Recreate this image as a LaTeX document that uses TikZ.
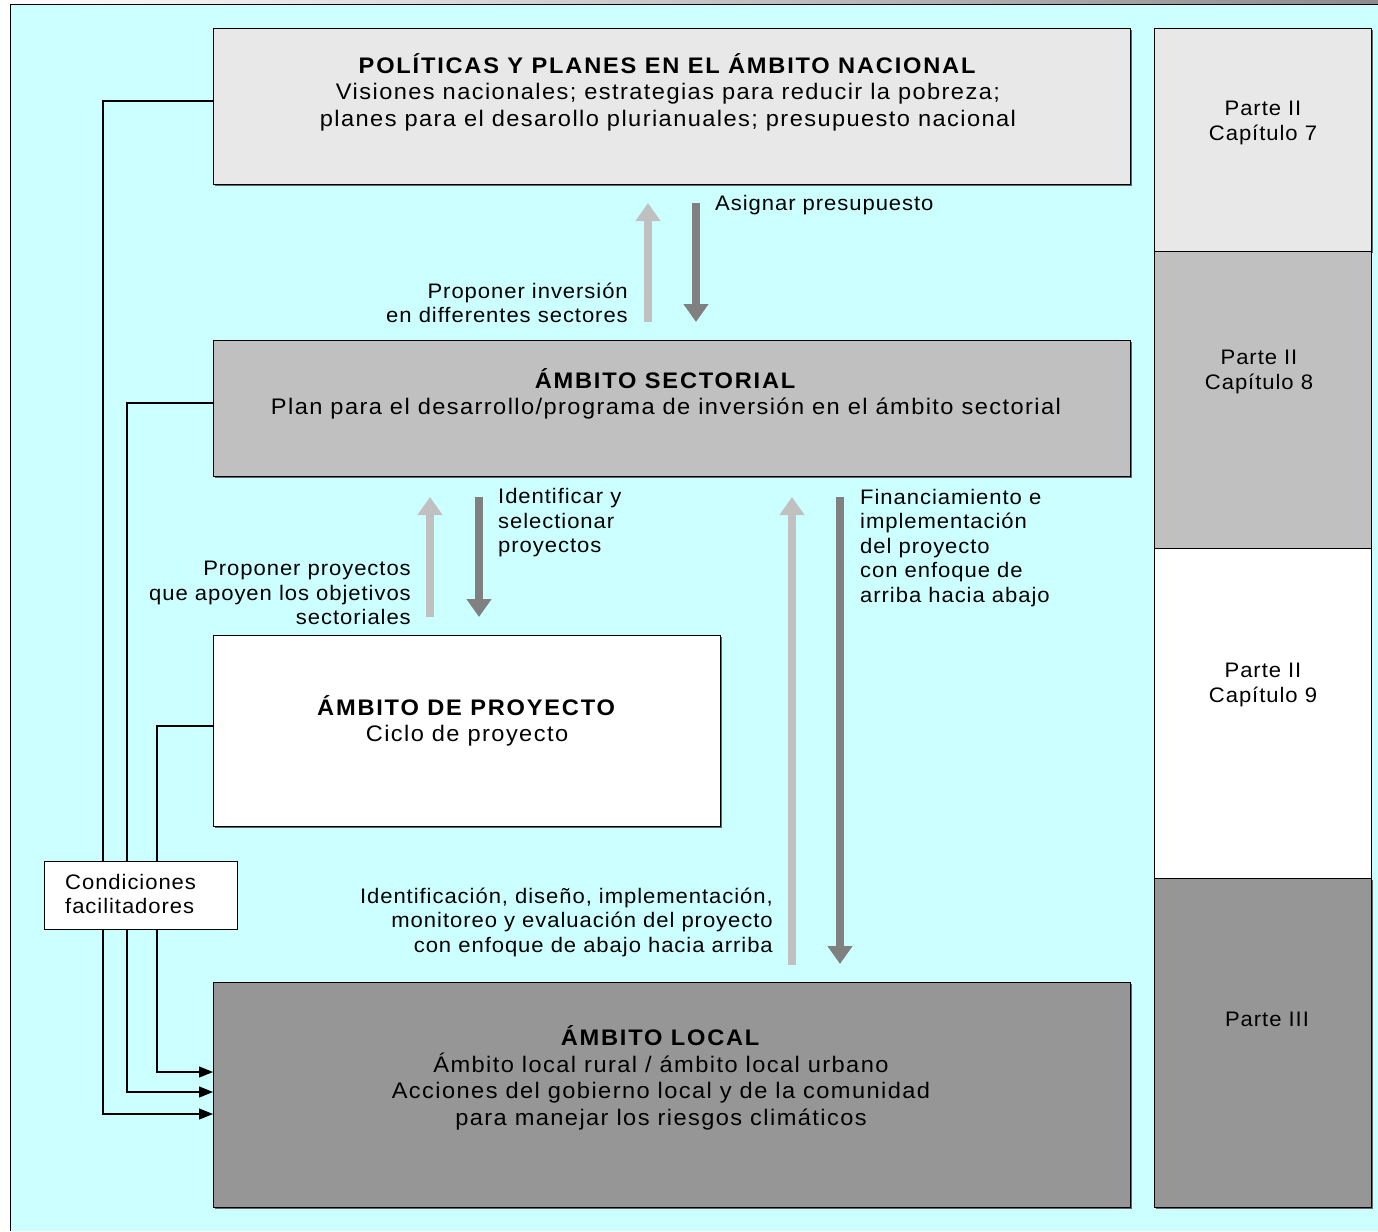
\documentclass[tikz,border=0pt]{standalone}
\usepackage{fontspec}
\setmainfont{Liberation Sans}[FakeStretch=1.05, LetterSpace=4.5]
\newfontfamily\boxfont{Liberation Sans}[FakeStretch=1.05, LetterSpace=6.3, BoldFeatures={LetterSpace=8}]
\usetikzlibrary{arrows.meta,shadows}
\definecolor{bgcyan}{HTML}{CCFFFF}
\definecolor{natgray}{HTML}{E8E8E8}
\definecolor{secgray}{HTML}{C0C0C0}
\definecolor{locgray}{HTML}{969696}
\definecolor{lightarr}{HTML}{C0C0C0}
\definecolor{darkarr}{HTML}{808080}
\tikzset{
  lvlbox/.style={draw=black, line width=1.3pt, rectangle, inner sep=0pt,
    drop shadow={shadow xshift=1.5pt, shadow yshift=-1.5pt, fill=black!60, opacity=1}},
  boxtext/.style={inner sep=0pt, align=center, font=\boxfont\fontsize{22.5}{26.5}\selectfont},
  coltext/.style={inner sep=0pt, align=center, font=\fontsize{21}{25}\selectfont},
  lbltext/.style={inner sep=0pt, font=\fontsize{21}{24.5}\selectfont},
  uparr/.style={draw=lightarr, line width=8pt, -{Triangle[width=24pt,length=18pt]}},
  dnarr/.style={draw=darkarr, line width=8pt, -{Triangle[width=24pt,length=18pt]}},
  conn/.style={draw=black, line width=1.3pt, -{Triangle[width=11pt,length=14pt]}},
}
\begin{document}
\begin{tikzpicture}[x=1pt,y=-1pt]
\useasboundingbox (0,0) rectangle (1378,1231);
% background
\fill[bgcyan] (10,5) rectangle (1378,1231);
\shade[left color=white, right color=black!45] (0,0) rectangle (1378,5);
\draw[black, line width=1pt] (10,1231) -- (10,5) -- (1378,5);
% level boxes
\node[lvlbox, fill=natgray, minimum width=917pt, minimum height=156pt, anchor=north west] (nat) at (213,28) {};
\node[lvlbox, fill=secgray, minimum width=917pt, minimum height=136pt, anchor=north west] (sec) at (213,340) {};
\node[lvlbox, fill=white, minimum width=507pt, minimum height=191pt, anchor=north west] (proj) at (213,635) {};
\node[lvlbox, fill=locgray, minimum width=917pt, minimum height=225pt, anchor=north west] (loc) at (213,982) {};
% right column
\node[lvlbox, fill=natgray, minimum width=217pt, minimum height=223pt, anchor=north west] (c7) at (1154,28) {};
\node[draw=black, line width=1.3pt, fill=secgray, minimum width=217pt, minimum height=297pt, anchor=north west, inner sep=0pt] (c8) at (1154,251) {};
\node[draw=black, line width=1.3pt, fill=white, minimum width=217pt, minimum height=330pt, anchor=north west, inner sep=0pt] (c9) at (1154,548) {};
\node[lvlbox, fill=locgray, minimum width=217pt, minimum height=329pt, anchor=north west] (p3) at (1154,878) {};
% box texts
\node[boxtext] (natt) at (668,92) {\textbf{POLÍTICAS Y PLANES EN EL ÁMBITO NACIONAL}\\Visiones nacionales; estrategias para reducir la pobreza;\\planes para el desarollo plurianuales; presupuesto nacional};
\node[boxtext] (sect) at (666,394) {\textbf{ÁMBITO SECTORIAL}\\Plan para el desarrollo/programa de inversión en el ámbito sectorial};
\node[boxtext] (projt) at (467,721) {\textbf{ÁMBITO DE PROYECTO}\\Ciclo de proyecto};
\node[boxtext] (loct) at (661,1078) {\textbf{ÁMBITO LOCAL}\\Ámbito local rural / ámbito local urbano\\Acciones del gobierno local y de la comunidad\\para manejar los riesgos climáticos};
\node[coltext] (c7t) at (1263,123) {Parte II\\Capítulo 7};
\node[coltext] (c8t) at (1259,372) {Parte II\\Capítulo 8};
\node[coltext] (c9t) at (1263,685) {Parte II\\Capítulo 9};
\node[coltext] (p3t) at (1267,1019) {Parte III};
% vertical arrows
\coordinate (a1b) at (648,322); \coordinate (a1t) at (648,203);
\coordinate (a2t) at (696,203); \coordinate (a2b) at (696,322);
\draw[uparr] (a1b) -- (a1t);
\draw[dnarr] (a2t) -- (a2b);
\coordinate (a3b) at (430,617); \coordinate (a3t) at (430,497);
\coordinate (a4t) at (479,497); \coordinate (a4b) at (479,617);
\draw[uparr] (a3b) -- (a3t);
\draw[dnarr] (a4t) -- (a4b);
\coordinate (a5b) at (792,965); \coordinate (a5t) at (792,497);
\coordinate (a6t) at (840,497); \coordinate (a6b) at (840,964);
\draw[uparr] (a5b) -- (a5t);
\draw[dnarr] (a6t) -- (a6b);
% arrow labels
\node[lbltext, anchor=west] (l1) at (715,205) {Asignar presupuesto};
\node[lbltext, anchor=east, align=right] (l2) at (628,303) {Proponer inversión\\en differentes sectores};
\node[lbltext, anchor=west, align=left] (l3) at (498,523) {Identificar y\\selectionar\\proyectos};
\node[lbltext, anchor=east, align=right] (l4) at (411,593) {Proponer proyectos\\que apoyen los objetivos\\sectoriales};
\node[lbltext, anchor=west, align=left] (l5) at (860,548) {Financiamiento e\\implementación\\del proyecto\\con enfoque de\\arriba hacia abajo};
\node[lbltext, anchor=east, align=right] (l6) at (773,922) {Identificación, diseño, implementación,\\monitoreo y evaluación del proyecto\\con enfoque de abajo hacia arriba};
% enabling conditions connectors
\draw[conn] (nat.west |- 0,101) -- (103,101) -- (103,1114) -- (loc.west |- 0,1114);
\draw[conn] (sec.west |- 0,403) -- (127,403) -- (127,1092) -- (loc.west |- 0,1092);
\draw[conn] (proj.west |- 0,726) -- (157,726) -- (157,1072) -- (loc.west |- 0,1072);
\node[draw=black, line width=1.3pt, fill=white, minimum width=193pt, minimum height=68pt, anchor=north west, inner sep=0pt] (cond) at (44,861) {};
\node[lbltext, anchor=west, align=left] (condt) at (65,894) {Condiciones\\facilitadores};
\end{tikzpicture}
\end{document}
